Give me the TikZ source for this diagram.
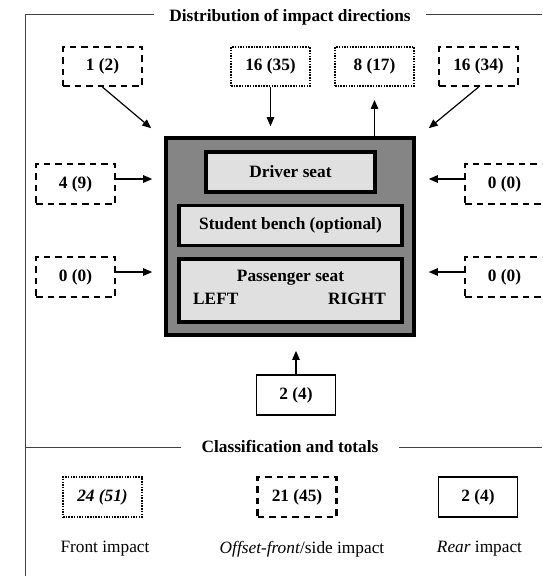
\documentclass[tikz,border=0pt]{standalone}
\usepackage{fontspec}
\setmainfont{Liberation Serif}
\usetikzlibrary{arrows.meta,calc}
\begin{document}
\begin{tikzpicture}[x=1pt,y=-1pt,
 font=\fontsize{17.3}{20}\selectfont\bfseries,
 valbox/.style={minimum width=79pt,minimum height=40pt,inner sep=0pt},
 dashbox/.style={valbox,draw,line width=2.2pt,dash pattern=on 6.5pt off 5pt},
 dotbox/.style={valbox,draw,line width=1.9pt,dash pattern=on 1.5pt off 1.2pt},
 solidbox/.style={valbox,draw,line width=1.8pt},
 seat/.style={draw,line width=3.4pt,fill=black!12,inner sep=0pt},
 arr/.style={-{Triangle[length=9pt,width=7.5pt]},line width=1.2pt},
 frameline/.style={line width=0.9pt,draw=black!75},
 head/.style={fill=white,inner xsep=15pt,inner ysep=2pt},
 lbl/.style={font=\fontsize{17.3}{20}\selectfont}
]
\clip (0,0) rectangle (542,576);
\fill[white] (0,0) rectangle (542,576);
% frame
\draw[frameline] (25,576) -- (25,14.5) -- (542,14.5);
\draw[frameline] (25,447) -- (542,447);
\node[head] (title) at (290,17) {Distribution of impact directions};
\node[head,inner xsep=21pt] (class) at (290,446) {Classification and totals};
% main vehicle
\node[draw,line width=3.6pt,fill=black!48,minimum width=248pt,minimum height=197pt,inner sep=0pt] (main) at (290,236.5) {};
\node[seat,minimum width=169pt,minimum height=40pt] (driver) at (290.5,172) {Driver seat};
\node[seat,minimum width=223pt,minimum height=40pt] (bench) at (290.5,225.5) {Student bench (optional)};
\node[seat,minimum width=223pt,minimum height=63pt] (pass) at (290.5,290.5) {};
\node (passtxt) at (290.5,278) {Passenger seat};
\node[anchor=west,inner sep=0pt] (left) at (193,299) {LEFT};
\node[anchor=east,inner sep=0pt] (right) at (386,299) {RIGHT};
% top boxes
\node[dashbox,minimum height=39pt] (n12) at (102.5,66.5) {1 (2)};
\node[dotbox,minimum height=39pt] (n1635) at (270.5,66.5) {16 (35)};
\node[dotbox,minimum height=39pt] (n817) at (374.5,66.5) {8 (17)};
\node[dashbox,minimum height=39pt] (n1634) at (478.5,66.5) {16 (34)};
% side boxes
\node[dashbox] (n49) at (75.5,184) {4 (9)};
\node[dashbox] (nl00) at (75.5,277) {0 (0)};
\node[dashbox] (nr1) at (504.5,184) {0 (0)};
\node[dashbox] (nr2) at (504.5,277) {0 (0)};
% rear box
\node[solidbox] (n24) at (296,395) {2 (4)};
% arrows
\draw[arr] (n12.south) -- ([xshift=-13pt,yshift=8pt]main.north west);
\draw[arr] (n1635.south) -- ([yshift=10pt]main.north -| n1635.south);
\draw[arr] (main.north -| n817.south) -- ([yshift=-13pt]n817.south);
\draw[arr] (n1634.south) -- ([xshift=13pt,yshift=8pt]main.north east);
\draw[arr] ([yshift=5pt]n49.east) -- ([xshift=-12pt,yshift=5pt]n49.east -| main.west);
\draw[arr] ([yshift=5pt]nl00.east) -- ([xshift=-12pt,yshift=5pt]nl00.east -| main.west);
\draw[arr] ([yshift=5pt]nr1.west) -- ([xshift=13pt,yshift=5pt]nr1.west -| main.east);
\draw[arr] ([yshift=5pt]nr2.west) -- ([xshift=13pt,yshift=5pt]nr2.west -| main.east);
\draw[arr] (n24.north) -- ([yshift=-14pt]main.south -| n24.north);
% classification
\node[dotbox,font=\fontsize{17.3}{20}\selectfont\bfseries\itshape] (cfront) at (102.5,497) {24 (51)};
\node[dashbox] (cside) at (297,497) {21 (45)};
\node[solidbox] (crear) at (478,497) {2 (4)};
\node[lbl] (lfront) at (105,549) {Front impact};
\node[lbl] (lside) at (302,549) {\textit{Offset-front}/side impact};
\node[lbl] (lrear) at (479.5,549) {\textit{Rear} impact};
\end{tikzpicture}
\end{document}
